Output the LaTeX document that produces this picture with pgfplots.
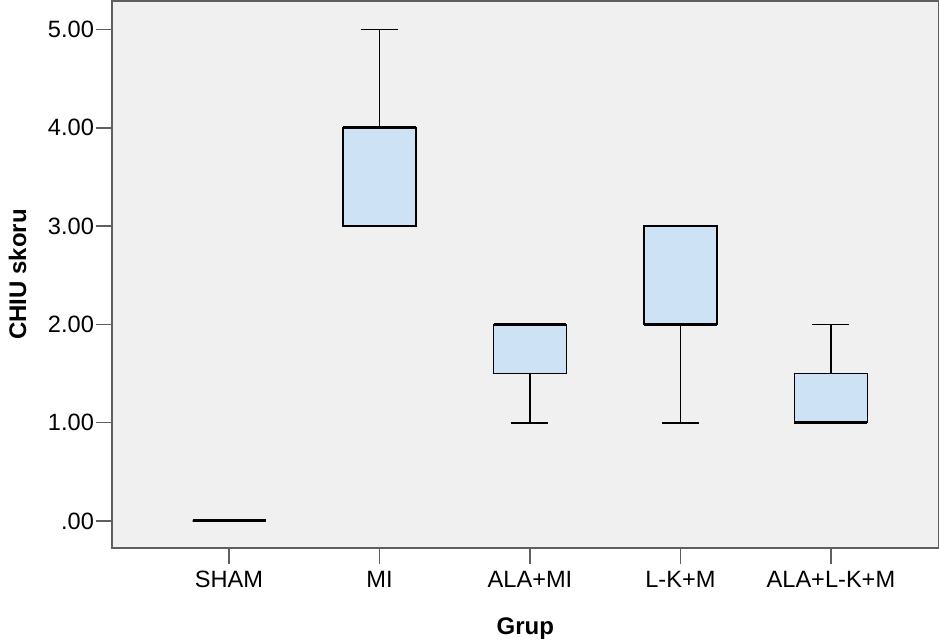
\documentclass[border=0pt]{standalone}
\usepackage{pgfplots}
\pgfplotsset{compat=1.18}
\usepgfplotslibrary{statistics}
\usepackage{fontspec}
\setmainfont{Liberation Sans}
\definecolor{boxblue}{RGB}{206,226,245}
\definecolor{bggray}{RGB}{240,240,240}
\definecolor{framegray}{RGB}{95,95,95}
\begin{document}
\begin{tikzpicture}
\begin{axis}[
  at={(0,0)}, anchor=south west,
  scale only axis,
  width=413.25pt, height=273.5pt,
  xmin=-0.778, xmax=4.715,
  ymin=-0.275, ymax=5.29,
  axis background/.style={fill=bggray},
  axis line style={framegray, line width=0.75pt},
  every tick/.style={framegray, line width=0.75pt},
  tick align=outside,
  major tick length=8pt,
  xtick={0,1,2,3,4},
  xticklabels={SHAM,MI,ALA+MI,L-K+M,ALA+L-K+M},
  ytick={0,1,2,3,4,5},
  yticklabels={.00,1.00,2.00,3.00,4.00,5.00},
  xtick pos=bottom, ytick pos=left,
  tick label style={font=\fontsize{11.8}{14}\selectfont},
  yticklabel style={xshift=2.5pt},
  xlabel={Grup},
  ylabel={CHIU skoru},
  label style={font=\fontsize{12}{14}\selectfont\bfseries},
  xlabel style={at={(axis description cs:0.5,-0.159)}, anchor=base},
  ylabel style={at={(axis description cs:-0.104,0.5)}, anchor=base, rotate=0},
  boxplot/draw direction=y,
  boxplot/box extend=0.485,
  boxplot/whisker extend=0.246,
  boxplot/every box/.style={draw=black, fill=boxblue, line width=0.6pt},
  boxplot/every whisker/.style={draw=black, line width=0.85pt},
  boxplot/every median/.style={draw=black, line width=1.5pt},
]
\addplot[boxplot prepared={draw position=0, median=0, upper quartile=0, lower quartile=0, upper whisker=0, lower whisker=0}] coordinates {};
\addplot[boxplot prepared={draw position=1, median=4, upper quartile=4, lower quartile=3, upper whisker=5, lower whisker=3}] coordinates {};
\addplot[boxplot prepared={draw position=2, median=2, upper quartile=2, lower quartile=1.5, upper whisker=2, lower whisker=1}] coordinates {};
\addplot[boxplot prepared={draw position=3, median=2, upper quartile=3, lower quartile=2, upper whisker=3, lower whisker=1}] coordinates {};
\addplot[boxplot prepared={draw position=4, median=1, upper quartile=1.5, lower quartile=1, upper whisker=2, lower whisker=1}] coordinates {};
\end{axis}
\pgfresetboundingbox
\path (-56pt,-46pt) rectangle (413.5pt,274pt);
\end{tikzpicture}
\end{document}
